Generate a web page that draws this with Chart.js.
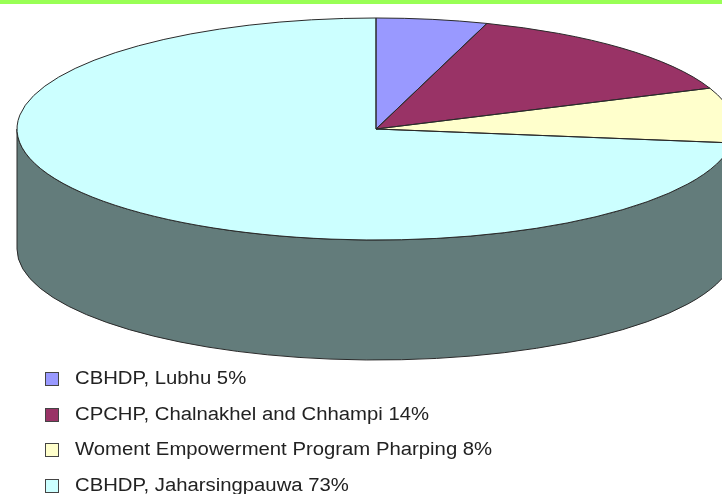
<!DOCTYPE html>
<html>
<head>
<meta charset="utf-8">
<style>
html,body{margin:0;padding:0;background:#fff;overflow:hidden}
#bar{position:absolute;left:0;top:0;width:722px;height:4px;background:#99ff55}
canvas{display:block;filter:blur(0.45px)}
</style>
<script src="https://cdn.jsdelivr.net/npm/chart.js@4/dist/chart.umd.js"></script>
</head>
<body>
<canvas id="c" width="722" height="494"></canvas>
<div id="bar"></div>
<script>
const categories = ["CBHDP, Lubhu", "CPCHP, Chalnakhel and Chhampi", "Woment Empowerment Program Pharping", "CBHDP, Jaharsingpauwa"];
const shares = [5, 14, 8, 73];
const topColors = ["#9999ff", "#993366", "#ffffcc", "#ccffff"];
const wallColors = ["#4d4d80", "#4d1a33", "#808066", "#637c7b"];
const legendLabels = categories.map((n, i) => n + " " + shares[i] + "%");

const SQUASH = 111 / 359;
const DEPTH = 120;
const EDGE = "#2a2a2a";

function tracePath(ctx, a) {
  ctx.beginPath();
  ctx.moveTo(a.x, a.y);
  ctx.arc(a.x, a.y, a.outerRadius, a.startAngle, a.endAngle);
  ctx.closePath();
}

const pie3d = {
  id: "pie3d",
  beforeDatasetsDraw(chart) {
    const ctx = chart.ctx;
    const arcs = chart.getDatasetMeta(0).data;
    const first = arcs[0];
    ctx.save();
    ctx.lineWidth = 1;
    ctx.strokeStyle = EDGE;
    arcs.forEach((a, i) => {
      const s = Math.max(a.startAngle, 0), e = Math.min(a.endAngle, Math.PI);
      if (s >= e) return;
      const ry = a.outerRadius * SQUASH;
      ctx.beginPath();
      ctx.ellipse(a.x, a.y + DEPTH, a.outerRadius, ry, 0, s, e);
      ctx.ellipse(a.x, a.y, a.outerRadius, ry, 0, e, s, true);
      ctx.closePath();
      ctx.fillStyle = wallColors[i];
      ctx.fill();
      ctx.stroke();
    });
    ctx.restore();
    ctx.save();
    ctx.translate(first.x, first.y);
    ctx.scale(1, SQUASH);
    ctx.translate(-first.x, -first.y);
  },
  afterDatasetsDraw(chart) {
    const ctx = chart.ctx;
    ctx.restore();
    const arcs = chart.getDatasetMeta(0).data;
    const first = arcs[0];
    ctx.save();
    ctx.lineWidth = 1;
    ctx.strokeStyle = EDGE;
    ctx.lineJoin = "round";
    arcs.forEach(a => {
      ctx.save();
      ctx.translate(first.x, first.y);
      ctx.scale(1, SQUASH);
      ctx.translate(-first.x, -first.y);
      tracePath(ctx, a);
      ctx.restore();
      ctx.stroke();
    });
    ctx.restore();
  },
  afterDraw(chart) {
    const ctx = chart.ctx;
    legendLabels.forEach((t, i) => {
      const y = 379 + i * 35.5;
      ctx.save();
      ctx.fillStyle = topColors[i];
      ctx.fillRect(45.5, Math.round(y) - 6.5, 13, 13);
      ctx.strokeStyle = "#444";
      ctx.lineWidth = 1;
      ctx.strokeRect(45.5, Math.round(y) - 6.5, 13, 13);
      ctx.fillStyle = "#222";
      ctx.font = "18px 'Liberation Sans', Arial, sans-serif";
      ctx.textBaseline = "middle";
      ctx.translate(75, y);
      ctx.scale(1.128, 1);
      ctx.fillText(t, 0, 0.5);
      ctx.restore();
    });
  }
};

new Chart(document.getElementById("c"), {
  type: "pie",
  data: {
    labels: legendLabels,
    datasets: [{
      data: shares,
      backgroundColor: topColors,
      borderWidth: 0,
      clip: false
    }]
  },
  options: {
    responsive: false,
    animation: false,
    radius: 359,
    layout: { padding: { left: 30, top: 0, right: 0, bottom: 236 } },
    plugins: { legend: { display: false }, tooltip: { enabled: false } }
  },
  plugins: [pie3d]
});
</script>
</body>
</html>
